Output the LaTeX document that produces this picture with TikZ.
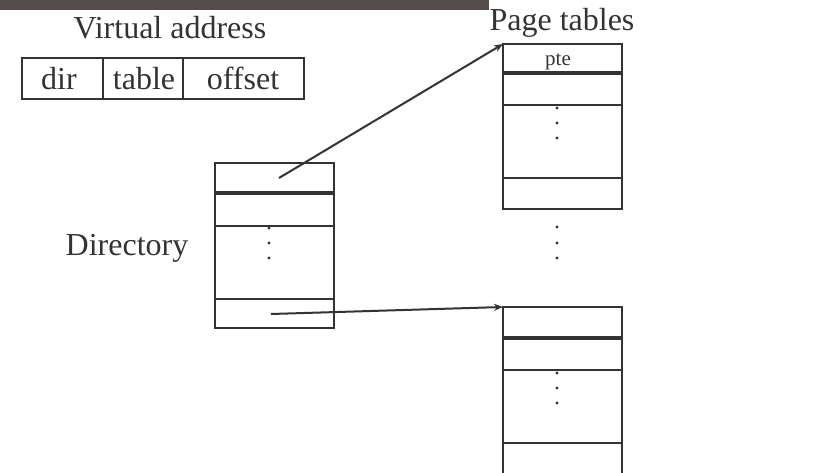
\documentclass[tikz,border=0pt]{standalone}
\usepackage{fontspec}
\setmainfont{Liberation Serif}
\usetikzlibrary{arrows.meta}
\definecolor{ink}{HTML}{333333}
\definecolor{banner}{HTML}{554C4B}
\tikzset{
  cell/.style={draw=ink, line width=2.2pt, inner sep=0pt, outer sep=0pt},
  label/.style={text=ink, font=\fontsize{32}{37}\selectfont, anchor=base, inner sep=0pt},
  small/.style={text=ink, font=\fontsize{21}{25}\selectfont, anchor=base, inner sep=0pt},
  link/.style={draw=ink, line width=2pt, -{Stealth[length=9pt,width=7pt]}},
  dot/.style={fill=ink, circle, inner sep=0pt, minimum size=3.2pt}
}
% a column of rows: #1 name prefix, #2 left x, #3 right x, #4..#8 row borders
\newcommand{\tablecol}[8]{%
  \node[anchor=north west, inner sep=0pt, minimum width=#3pt-#2pt, minimum height=#5pt-#4pt] (#1a) at (#2,#4) {};
  \node[anchor=north west, inner sep=0pt, minimum width=#3pt-#2pt, minimum height=#6pt-#5pt] (#1b) at (#2,#5) {};
  \node[anchor=north west, inner sep=0pt, minimum width=#3pt-#2pt, minimum height=#7pt-#6pt] (#1c) at (#2,#6) {};
  \node[anchor=north west, inner sep=0pt, minimum width=#3pt-#2pt, minimum height=#8pt-#7pt] (#1d) at (#2,#7) {};
  \draw[ink, line width=2.2pt] (#2,#6) -- (#3,#6) (#2,#7) -- (#3,#7);
  \draw[ink, line width=3.6pt] (#2,#5) -- (#3,#5);
  \draw[ink, line width=2.8pt] (#2,#4) rectangle (#3,#8);
}
\begin{document}
\begin{tikzpicture}[x=1pt, y=-1pt]
  \useasboundingbox (0,0) rectangle (831,472);
  \clip (0,0) rectangle (831,472);
  \fill[banner] (0,0) rectangle (489,10);

  % virtual address layout
  \node[label] (vatitle) at (170,38) {Virtual address};
  \node[cell, line width=2.4pt, anchor=north west, minimum width=81pt, minimum height=41pt] (fdir) at (22,58) {};
  \node[cell, line width=2.4pt, anchor=north west, minimum width=80pt, minimum height=41pt] (ftable) at (103,58) {};
  \node[cell, line width=2.4pt, anchor=north west, minimum width=121pt, minimum height=41pt] (foffset) at (183,58) {};
  \node[label] (tdir) at (59,89) {dir};
  \node[label] (ttable) at (144,89) {table};
  \node[label] (toffset) at (243,89) {offset};

  % page directory
  \node[label] (dirname) at (127,255) {Directory};
  \tablecol{dir}{215}{334}{163}{193}{226}{299}{328}
  \node[dot] (dd1) at (269,228) {};
  \node[dot] (dd2) at (269,243) {};
  \node[dot] (dd3) at (269,258) {};

  % page tables
  \node[label] (pttitle) at (562,30) {Page tables};
  \tablecol{pta}{503}{622}{44}{73}{105}{178}{209}
  \node[small] (pte) at (558,65) {pte};
  \node[dot] (pa1) at (557,108) {};
  \node[dot] (pa2) at (557,123) {};
  \node[dot] (pa3) at (557,138) {};

  \node[dot] (gap1) at (557,227) {};
  \node[dot] (gap2) at (557,243) {};
  \node[dot] (gap3) at (557,258) {};

  \tablecol{ptb}{503}{622}{307}{338}{370}{443}{500}
  \node[dot] (pb1) at (557,373) {};
  \node[dot] (pb2) at (557,388) {};
  \node[dot] (pb3) at (557,403) {};

  % directory entries pointing to page tables
  \coordinate (src1) at (279,178);
  \coordinate (src2) at (271,314);
  \draw[link] (src1) -- (ptaa.north west);
  \draw[link] (src2) -- (ptba.north west);
\end{tikzpicture}
\end{document}
